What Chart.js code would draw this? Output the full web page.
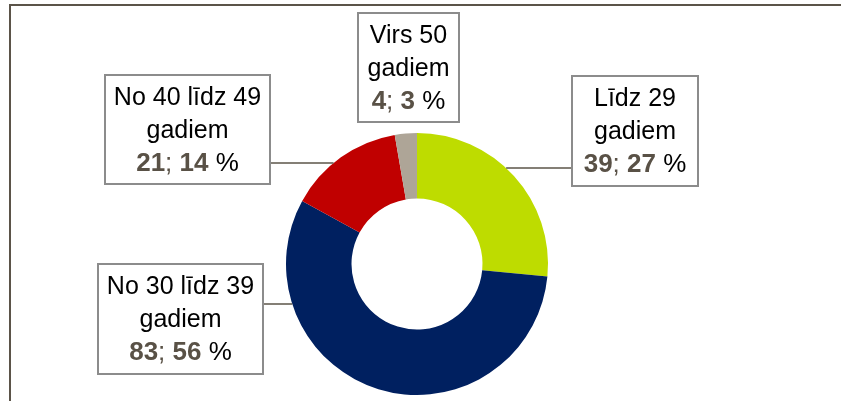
<!DOCTYPE html>
<html>
<head>
<meta charset="utf-8">
<script src="https://cdn.jsdelivr.net/npm/chart.js@4.4.1/dist/chart.umd.min.js"></script>
<style>
  body { margin: 0; background: #fff; }
  #wrap { width: 841px; height: 401px; position: relative; }
</style>
</head>
<body>
<div id="wrap"><canvas id="myChart"></canvas></div>
<script>
// data
let categories = ['Līdz 29 gadiem', 'No 30 līdz 39 gadiem', 'No 40 līdz 49 gadiem', 'Virs 50 gadiem'];
let labelLines = [['Līdz 29', 'gadiem'], ['No 30 līdz 39', 'gadiem'], ['No 40 līdz 49', 'gadiem'], ['Virs 50', 'gadiem']];
let counts = [39, 83, 21, 4];
let percents = [27, 56, 14, 3];
let colors = ['#bedc00', '#002060', '#c00000', '#aea597'];

// where each callout box sits (left, top, width, height) and the y of its leader line
let boxes = [
  { x: 572, y: 76, w: 126, h: 110, lineY: 168, side: 'left' },
  { x: 98, y: 264, w: 165, h: 110, lineY: 304, side: 'right' },
  { x: 105, y: 75, w: 165, h: 109, lineY: 163, side: 'right' },
  { x: 358, y: 13, w: 101, h: 109, lineY: null, side: null }
];

const fontFam = '"Liberation Sans", Arial, sans-serif';
const numColor = '#595146';
const frameColor = '#5b5449';

const frame = {
  id: 'frame',
  beforeDraw(chart) {
    const ctx = chart.ctx;
    ctx.save();
    ctx.strokeStyle = frameColor;
    ctx.lineWidth = 2;
    ctx.beginPath();
    ctx.moveTo(10, 401);
    ctx.lineTo(10, 5);
    ctx.lineTo(841, 5);
    ctx.stroke();
    ctx.restore();
  }
};

const callouts = {
  id: 'callouts',
  afterDraw(chart) {
    const ctx = chart.ctx;
    const meta = chart.getDatasetMeta(0);
    ctx.save();
    boxes.forEach((b, i) => {
      const arc = meta.data[i];
      // leader line from box edge to the outer edge of the ring
      if (b.lineY !== null) {
        const dy = b.lineY - arc.y;
        const dx = Math.sqrt(Math.max(arc.outerRadius * arc.outerRadius - dy * dy, 0));
        const ax = b.side === 'left' ? arc.x + dx : arc.x - dx;
        const bx = b.side === 'left' ? b.x : b.x + b.w;
        ctx.strokeStyle = frameColor;
        ctx.lineWidth = 1.5;
        ctx.beginPath();
        ctx.moveTo(bx, b.lineY);
        ctx.lineTo(ax, b.lineY);
        ctx.stroke();
      }
      // box
      ctx.fillStyle = '#fff';
      ctx.fillRect(b.x, b.y, b.w, b.h);
      ctx.strokeStyle = '#8c8c8c';
      ctx.lineWidth = 2;
      ctx.strokeRect(b.x, b.y, b.w, b.h);

      const cx = b.x + b.w / 2;
      ctx.textBaseline = 'alphabetic';
      ctx.textAlign = 'center';
      ctx.fillStyle = '#000';
      ctx.font = '25px ' + fontFam;
      labelLines[i].forEach((t, k) => {
        ctx.fillText(t, cx, b.y + 29.5 + k * 33);
      });

      // third line: bold count; bold percent %
      const parts = [
        { t: String(counts[i]), bold: true, c: numColor },
        { t: '; ', bold: false, c: numColor },
        { t: String(percents[i]), bold: true, c: numColor },
        { t: ' %', bold: false, c: '#000' }
      ];
      let total = 0;
      parts.forEach(p => {
        ctx.font = (p.bold ? 'bold ' : '') + '26px ' + fontFam;
        p.w = ctx.measureText(p.t).width;
        total += p.w;
      });
      let x = cx - total / 2;
      ctx.textAlign = 'left';
      parts.forEach(p => {
        ctx.font = (p.bold ? 'bold ' : '') + '26px ' + fontFam;
        ctx.fillStyle = p.c;
        ctx.fillText(p.t, x, b.y + 29.5 + 2 * 33);
        x += p.w;
      });
    });
    ctx.restore();
  }
};

const ctx = document.getElementById('myChart');
let myChart = new Chart(ctx, {
  type: 'doughnut',
  data: {
    labels: categories,
    datasets: [{
      data: counts,
      backgroundColor: colors,
      borderWidth: 0,
      hoverOffset: 0,
      offset: 0
    }]
  },
  options: {
    responsive: true,
    maintainAspectRatio: false,
    animation: false,
    cutout: '50%',
    layout: { padding: { top: 133, bottom: 6, left: 0, right: 7 } },
    plugins: {
      legend: { display: false },
      tooltip: { enabled: false }
    }
  },
  plugins: [frame, callouts]
});
</script>
</body>
</html>
